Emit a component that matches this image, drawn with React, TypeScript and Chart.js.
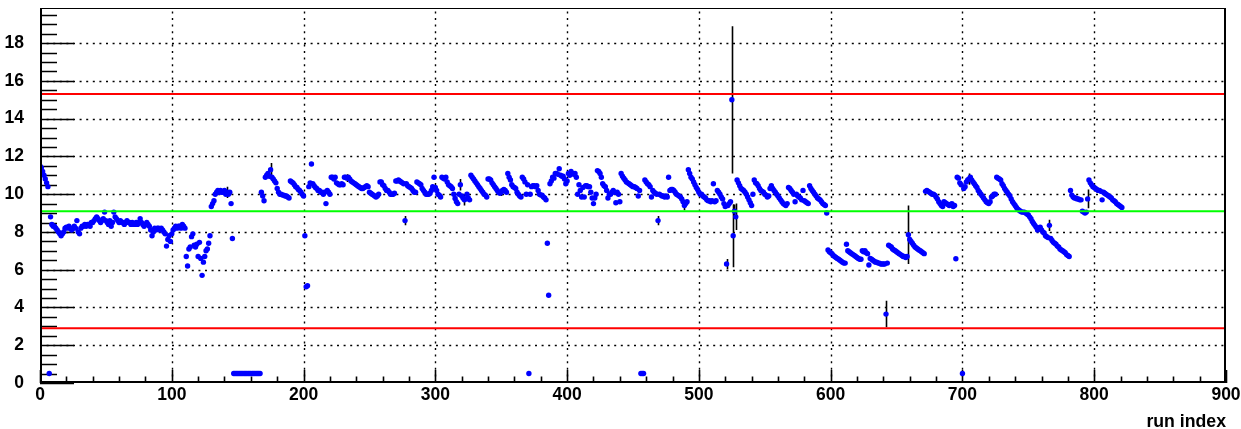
import React, { useEffect, useRef } from "react";
import { Chart, registerables } from "chart.js";

Chart.register(...registerables);

// Measured value for each run index (array position = run index)
const runValues: (number | null)[] = [
  11.5, 11.4, 11.2, 11.0, 10.8, 10.6, 10.4, 0.5, 8.8, 8.4,
  8.3, 8.3, 8.2, 8.1, 8.0, 7.9, 7.8, 7.9, 8.0, 8.2,
  8.25, 8.2, 8.3, 8.2, 8.1, 8.2, 8.3, 8.2, 8.6, 8.0,
  7.9, 8.2, 8.3, 8.3, 8.4, 8.3, 8.4, 8.4, 8.3, 8.5,
  8.5, 8.6, 8.7, 8.8, 8.7, 8.6, 8.5, 8.6, 8.7, 9.05,
  8.6, 8.5, 8.4, 8.6, 8.3, 8.5, 9.05, 8.8, 8.7, 8.6,
  8.5, 8.6, 8.5, 8.5, 8.4, 8.5, 8.6, 8.5, 8.5, 8.4,
  8.5, 8.4, 8.4, 8.5, 8.4, 8.5, 8.7, 8.5, 8.4, 8.3,
  8.4, 8.5, 8.4, 8.3, 8.1, 7.8, 8.0, 8.2, 8.1, 8.2,
  8.2, 8.1, 8.2, 8.1, 8.0, 7.9, 7.25, 7.6, 7.8, 7.5,
  7.9, 8.1, 8.2, 8.3, 8.2, 8.3, 8.3, 8.2, 8.4, 8.3,
  8.2, 6.7, 6.2, 7.1, 7.2, 7.75, 7.9, 7.3, 7.2, 7.35,
  6.7, 7.45, 6.6, 5.7, 6.4, 6.7, 7.0, 7.1, 7.4, 7.8,
  9.35, 9.5, 9.65, 10.0, 10.1, 10.2, 10.1, 10.2, 10.1, 10.1,
  10.2, 10.0, 10.1, 10.0, 10.1, 9.5, 7.65, 0.5, 0.5, 0.5,
  0.5, 0.5, 0.5, 0.5, 0.5, 0.5, 0.5, 0.5, 0.5, 0.5,
  0.5, 0.5, 0.5, 0.5, 0.5, 0.5, 0.5, 0.5, 10.1, 9.9,
  9.65, 10.9, 11.0, 11.1, 10.95, 11.3, 10.9, 10.8, 10.7, 10.6,
  10.3, 10.1, 10.0, 10.0, 9.95, 9.95, 9.9, 9.9, 9.85, 9.8,
  10.7, 10.65, 10.6, 10.5, 10.4, 10.35, 10.25, 10.2, 10.1, 10.0,
  9.9, 7.8, 5.1, 5.15, 10.4, 10.6, 11.6, 10.55, 10.45, 10.35,
  10.3, 10.2, 10.2, 10.1, 10.1, 10.0, 10.1, 9.5, 10.2, 10.1,
  10.0, 10.9, 10.9, 10.8, 10.9, 10.6, 10.55, 10.5, 10.5, 10.55,
  10.5, 10.9, 10.9, 10.85, 10.9, 10.8, 10.7, 10.65, 10.6, 10.55,
  10.5, 10.45, 10.4, 10.35, 10.3, 10.3, 10.35, 10.4, 10.45, 10.4,
  10.1, 10.05, 10.0, 9.95, 9.9, 9.85, 9.9, 10.0, 10.65, 10.65,
  10.5, 10.45, 10.3, 10.2, 10.2, 10.1, 10.0, 10.0, 10.0, 10.05,
  10.7, 10.7, 10.75, 10.7, 10.65, 10.6, 10.55, 8.6, 10.55, 10.45,
  10.4, 10.35, 10.3, 10.2, 10.1, 10.1, 10.65, 10.6, 10.55, 10.5,
  10.3, 10.2, 10.1, 10.0, 10.0, 10.0, 10.05, 10.2, 10.4, 10.9,
  10.35, 10.2, 10.0, 9.95, 9.85, 10.9, 10.85, 10.8, 10.9, 10.65,
  10.5, 10.45, 10.4, 10.3, 10.0, 9.77, 9.6, 9.5, 10.0, 10.5,
  9.9, 9.8, 9.7, 9.75, 10.0, 9.8, 9.7, 11.0, 10.9, 10.8,
  10.7, 10.6, 10.5, 10.4, 10.3, 10.2, 10.1, 10.0, 9.95, 9.85,
  10.8, 10.8, 10.75, 10.6, 10.5, 10.4, 10.3, 10.2, 10.1, 10.05,
  10.1, 10.2, 10.25, 10.2, 10.1, 11.1, 10.9, 10.75, 10.5, 10.4,
  10.35, 10.3, 10.1, 10.0, 9.9, 9.85, 10.9, 10.8, 10.65, 10.0,
  10.5, 0.5, 10.0, 10.4, 10.45, 10.45, 10.4, 10.45, 10.2, 10.0,
  9.95, 9.95, 9.85, 9.8, 9.7, 7.4, 4.65, 10.55, 10.7, 10.9,
  10.85, 11.1, 11.1, 11.05, 11.35, 11.0, 10.95, 10.95, 10.8, 10.55,
  10.7, 11.1, 11.0, 11.2, 11.1, 11.05, 11.1, 10.9, 10.0, 10.5,
  10.2, 9.85, 10.35, 9.85, 10.45, 10.45, 10.4, 10.4, 10.1, 9.8,
  9.5, 9.8, 10.0, 11.25, 11.2, 11.1, 10.9, 10.55, 10.45, 10.4,
  10.2, 9.8, 10.0, 10.0, 10.1, 10.2, 10.1, 9.55, 10.1, 10.0,
  9.6, 11.1, 10.95, 10.85, 10.75, 10.65, 10.6, 10.55, 10.5, 10.45,
  10.4, 10.4, 10.35, 10.3, 9.9, 10.2, 0.5, 0.5, 0.5, 10.75,
  10.65, 10.55, 10.5, 10.4, 9.85, 10.2, 10.1, 10.05, 10.0, 8.6,
  10.0, 9.95, 9.9, 9.9, 9.85, 9.9, 9.85, 10.9, 10.2, 10.25,
  10.25, 10.2, 10.1, 10.0, 9.95, 9.9, 9.85, 9.75, 9.6, 9.4,
  9.5, 9.6, 11.3, 11.1, 10.9, 10.8, 10.65, 10.5, 10.35, 10.25,
  10.1, 10.0, 10.0, 9.9, 9.85, 9.8, 9.7, 9.65, 9.65, 9.6,
  9.65, 10.55, 9.6, 9.65, 10.2, 10.1, 10.0, 9.85, 9.75, 9.5,
  9.35, 6.3, 9.4, 9.5, 9.6, 15.0, 7.8, 9.1, 8.8, 10.75,
  10.6, 10.45, 10.3, 10.25, 10.2, 10.1, 10.0, 9.85, 9.7, 9.55,
  9.4, 10.0, 10.75, 10.6, 10.55, 10.45, 10.3, 10.2, 10.15, 10.1,
  10.0, 9.95, 9.85, 9.9, 10.3, 10.45, 10.3, 10.2, 10.1, 10.0,
  9.9, 9.8, 9.7, 9.6, 9.5, 9.45, 9.4, 9.5, 10.35, 10.3,
  10.2, 10.1, 10.0, 9.6, 10.0, 9.9, 9.85, 9.8, 9.7, 10.2,
  9.65, 9.6, 9.55, 9.5, 10.45, 10.3, 10.2, 10.1, 10.0, 9.9,
  9.8, 9.75, 9.7, 9.6, 9.5, 9.45, 9.4, 9.0, 7.05, 6.95,
  6.9, 6.85, 6.75, 6.7, 6.65, 6.6, 6.55, 6.5, 6.45, 6.4,
  6.35, 6.35, 7.35, 7.0, 6.95, 6.9, 6.85, 6.8, 6.75, 6.7,
  6.65, 6.6, 6.55, 6.55, 7.0, 6.95, 7.0, 6.9, 6.85, 6.25,
  6.6, 6.55, 6.5, 6.45, 6.4, 6.4, 6.35, 6.35, 6.3, 6.3,
  6.3, 6.3, 3.65, 6.35, 7.3, 7.25, 7.2, 7.1, 7.05, 7.0,
  6.95, 6.9, 6.85, 6.8, 6.75, 6.7, 6.7, 6.65, 6.7, 7.85,
  7.6, 7.5, 7.4, 7.3, 7.2, 7.15, 7.1, 7.05, 7.0, 6.95,
  6.9, 6.85, 10.15, 10.2, 10.15, 10.1, 10.05, 10.0, 10.0, 9.95,
  9.85, 9.75, 9.6, 9.5, 9.4, 9.35, 9.6, 9.55, 9.5, 9.45,
  9.4, 9.45, 9.5, 9.35, 9.4, 6.58, 10.9, 10.85, 10.6, 10.5,
  0.5, 10.3, 10.4, 10.65, 10.75, 10.8, 10.9, 10.75, 10.65, 10.55,
  10.45, 10.35, 10.2, 10.1, 10.0, 9.9, 9.8, 9.7, 9.6, 9.55,
  9.5, 9.6, 9.85, 9.9, 10.0, 10.0, 10.9, 10.85, 10.8, 10.75,
  10.55, 10.45, 10.3, 10.2, 10.1, 10.0, 9.9, 9.75, 9.6, 9.5,
  9.4, 9.3, 9.2, 9.15, 9.1, 9.05, 9.05, 9.05, 9.0, 8.95,
  8.9, 8.8, 8.7, 8.55, 8.45, 8.35, 8.25, 8.1, 8.2, 8.25,
  8.1, 8.0, 7.95, 7.8, 7.75, 7.7, 8.35, 7.65, 7.55, 7.45,
  7.4, 7.35, 7.25, 7.2, 7.1, 7.05, 7.0, 6.95, 6.9, 6.8,
  6.75, 6.7, 10.2, 9.95, 9.85, 9.8, 9.8, 9.75, 9.75, 9.7,
  9.7, 9.1, 9.05, 9.0, 9.05, 9.75, 10.75, 10.6, 10.5, 10.4,
  10.35, 10.3, 10.25, 10.2, 10.2, 10.15, 9.7, 10.1, 10.05, 10.0,
  9.95, 9.9, 9.85, 9.8, 9.7, 9.65, 9.6, 9.5, 9.45, 9.4,
  9.35, 9.3,
];

// Visible error bars: run index and half-size
const errRuns = [142, 175, 233, 277, 319, 322, 350, 469, 489, 521, 525, 526, 527, 528, 642, 659, 705, 766, 795];
const errSizes = [0.3, 0.35, 0.2, 0.25, 0.3, 0.3, 0.2, 0.25, 0.25, 0.27, 3.9, 1.67, 0.35, 0.7, 0.7, 1.55, 0.3, 0.3, 0.5];

// Reference lines
const UPPER_LIMIT = 15.3;
const LOWER_LIMIT = 2.9;
const MEAN_LEVEL = 9.1;

// Axes
const xTickValues = [0, 100, 200, 300, 400, 500, 600, 700, 800, 900];
const yTickValues = [0, 2, 4, 6, 8, 10, 12, 14, 16, 18];
const X_MIN = 0;
const X_MAX = 900;
const Y_MIN = 0;
const Y_MAX = 19.86;
const X_MINOR_DIV = 5;
const Y_MINOR_DIV = 4;
const X_TITLE = "run index";

const FONT_FAMILY = '"Liberation Sans", Arial, Helvetica, sans-serif';

const rootAxesPlugin = {
  id: "rootAxes",
  beforeDatasetsDraw(chart: any) {
    const { ctx, chartArea: a } = chart;
    const xs = chart.scales.x;
    const ys = chart.scales.y;
    ctx.save();
    // dotted grid
    ctx.strokeStyle = "#000";
    ctx.lineWidth = 1.4;
    ctx.setLineDash([2, 4.6]);
    ctx.beginPath();
    xTickValues.forEach((v) => {
      if (v <= X_MIN || v >= X_MAX) return;
      const px = Math.round(xs.getPixelForValue(v)) + 0.5;
      ctx.moveTo(px, a.bottom);
      ctx.lineTo(px, a.top);
    });
    yTickValues.forEach((v) => {
      if (v <= Y_MIN) return;
      const py = Math.round(ys.getPixelForValue(v)) + 0.5;
      ctx.moveTo(a.left, py);
      ctx.lineTo(a.right, py);
    });
    ctx.stroke();
    ctx.setLineDash([]);

    // y ticks (inside frame)
    ctx.lineWidth = 1.6;
    ctx.beginPath();
    const yStep = yTickValues[1] - yTickValues[0];
    for (let i = 0; i < yTickValues.length + 1; i++) {
      for (let k = 0; k < Y_MINOR_DIV; k++) {
        const v = yTickValues[0] + i * yStep + (k * yStep) / Y_MINOR_DIV;
        if (v > Y_MAX) continue;
        const py = Math.round(ys.getPixelForValue(v)) + 0.5;
        const len = k === 0 ? 34 : 17;
        ctx.moveTo(a.left, py);
        ctx.lineTo(a.left + len, py);
      }
    }
    // x ticks
    const xStep = xTickValues[1] - xTickValues[0];
    for (let i = 0; i < xTickValues.length; i++) {
      for (let k = 0; k < X_MINOR_DIV; k++) {
        const v = xTickValues[i] + (k * xStep) / X_MINOR_DIV;
        if (v > X_MAX) continue;
        const px = Math.round(xs.getPixelForValue(v)) + 0.5;
        const len = k === 0 ? 13 : 6.5;
        ctx.moveTo(px, a.bottom);
        ctx.lineTo(px, a.bottom - len);
      }
    }
    ctx.stroke();

    // error bars
    ctx.save();
    ctx.beginPath();
    ctx.rect(a.left, a.top, a.right - a.left, a.bottom - a.top);
    ctx.clip();
    ctx.lineWidth = 1.6;
    ctx.beginPath();
    errRuns.forEach((r, i) => {
      const v = runValues[r];
      if (v == null) return;
      const px = Math.round(xs.getPixelForValue(r)) + 0.5;
      ctx.moveTo(px, ys.getPixelForValue(v + errSizes[i]));
      ctx.lineTo(px, ys.getPixelForValue(v - errSizes[i]));
    });
    ctx.stroke();
    ctx.restore();
    ctx.restore();
  },
  afterDraw(chart: any) {
    const { ctx, chartArea: a } = chart;
    ctx.save();
    ctx.strokeStyle = "#000";
    ctx.lineWidth = 1;
    ctx.strokeRect(a.left + 0.5, a.top + 0.5, a.right - a.left - 1, a.bottom - a.top - 1);
    ctx.lineWidth = 2;
    ctx.beginPath();
    ctx.moveTo(a.left + 1, a.top);
    ctx.lineTo(a.left + 1, a.bottom - 1);
    ctx.lineTo(a.right - 1, a.bottom - 1);
    ctx.lineTo(a.right - 1, a.top);
    ctx.stroke();
    ctx.restore();
  },
};

export default function App() {
  const canvasRef = useRef<HTMLCanvasElement | null>(null);

  useEffect(() => {
    if (!canvasRef.current) return;
    const points = runValues
      .map((v, i) => (v == null ? null : { x: i, y: v }))
      .filter((p) => p !== null) as { x: number; y: number }[];

    const hline = (y: number) => [
      { x: X_MIN, y },
      { x: X_MAX, y },
    ];

    const chart = new Chart(canvasRef.current, {
      type: "scatter",
      data: {
        datasets: [
          {
            label: "upper",
            data: hline(UPPER_LIMIT),
            showLine: true,
            borderColor: "#ff0000",
            borderWidth: 2,
            pointRadius: 0,
            order: 0,
          },
          {
            label: "lower",
            data: hline(LOWER_LIMIT),
            showLine: true,
            borderColor: "#ff0000",
            borderWidth: 2,
            pointRadius: 0,
            order: 0,
          },
          {
            label: "mean",
            data: hline(MEAN_LEVEL),
            showLine: true,
            borderColor: "#00ff00",
            borderWidth: 2,
            pointRadius: 0,
            order: 0,
          },
          {
            label: "runs",
            data: points,
            backgroundColor: "#0000ff",
            borderWidth: 0,
            pointRadius: 2.7,
            order: 1,
          },
        ],
      },
      options: {
        animation: false,
        responsive: false,
        devicePixelRatio: 1,
        layout: { padding: { top: 8, right: 15, left: 0, bottom: 0 } },
        plugins: {
          legend: { display: false },
          tooltip: { enabled: false },
        },
        scales: {
          x: {
            type: "linear",
            min: X_MIN,
            max: X_MAX,
            grid: { display: false },
            border: { display: false },
            ticks: {
              stepSize: 100,
              includeBounds: false,
              autoSkip: false,
              maxRotation: 0,
              padding: -6,
              color: "#000",
              font: { family: FONT_FAMILY, size: 17.5, weight: "bold" },
            },
            title: {
              display: true,
              text: X_TITLE,
              align: "end",
              color: "#000",
              padding: { top: 0, bottom: -4 },
              font: { family: FONT_FAMILY, size: 17.7, weight: "bold" },
            },
            afterFit(scale: any) {
              scale.height = 46;
              scale.paddingLeft = 0;
              scale.paddingRight = 0;
            },
          },
          y: {
            type: "linear",
            min: Y_MIN,
            max: Y_MAX,
            grid: { display: false },
            border: { display: false },
            ticks: {
              stepSize: 2,
              includeBounds: false,
              autoSkip: false,
              padding: 8,
              color: "#000",
              font: { family: FONT_FAMILY, size: 17.5, weight: "bold" },
            },
            afterFit(scale: any) {
              scale.width = 40;
              scale.paddingTop = 0;
              scale.paddingBottom = 0;
            },
          },
        },
      },
      plugins: [rootAxesPlugin],
    } as any);

    return () => chart.destroy();
  }, []);

  return (
    <div style={{ position: "absolute", left: 0, top: 0, width: 1241, height: 429, background: "#fff" }}>
      <canvas ref={canvasRef} width={1241} height={429} style={{ display: "block", width: 1241, height: 429 }} />
    </div>
  );
}
